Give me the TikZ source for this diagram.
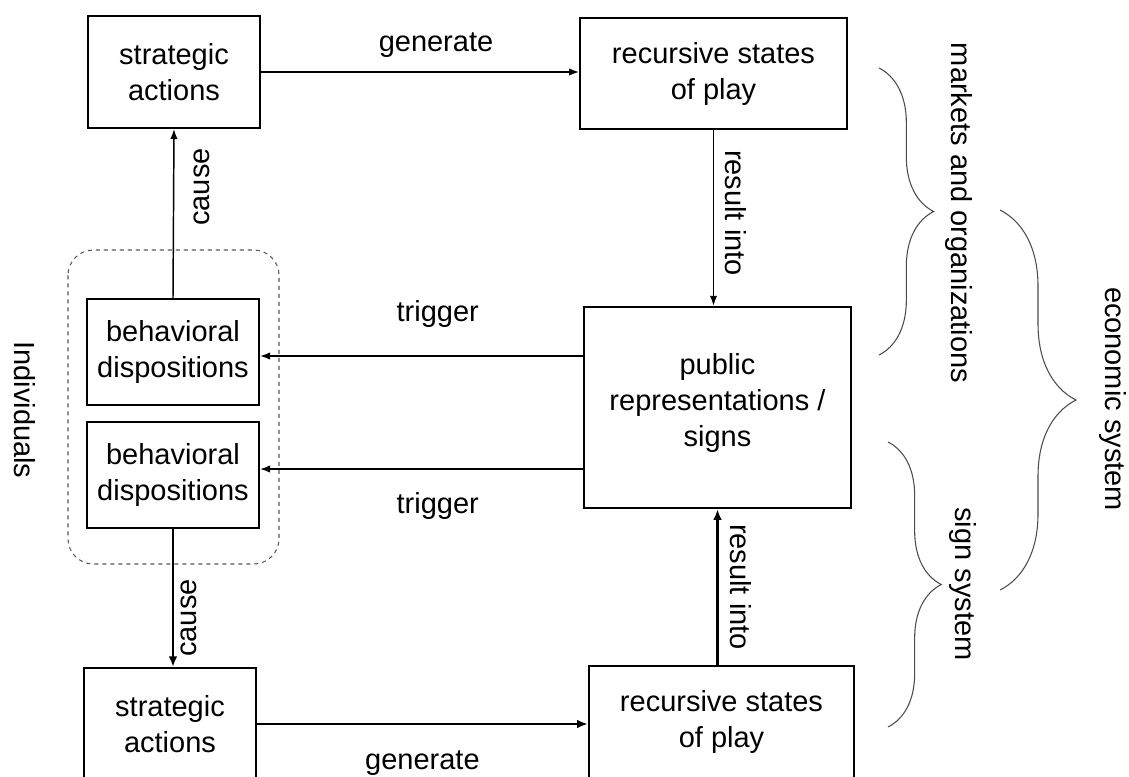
\documentclass[tikz,border=0pt]{standalone}
\usepackage{fontspec}
\setmainfont{Liberation Sans}
\usetikzlibrary{decorations.pathreplacing, arrows.meta}

\begin{document}
\begin{tikzpicture}[x=0.75pt, y=-0.75pt,
	font=\fontsize{21.75}{27}\selectfont,
	box/.style={draw, line width=1.5pt, align=center, inner sep=0pt},
	lbl/.style={inner sep=0pt},
	thinarrow/.style={-{Latex[length=7.5pt, width=5.5pt]}, line width=1.1pt},
	thickarrow/.style={-{Latex[length=8pt, width=6.5pt]}, line width=1.8pt},
	grp/.style={draw=gray!70!black, dashed, line width=0.8pt, rounded corners=19pt},
	brc/.style={draw=gray!60!black, line width=0.8pt, decorate, decoration={brace, amplitude=#1}}]
		\useasboundingbox (0,0) rectangle (1129,776);

		\node (sa1)[box, minimum width=129pt, minimum height=84pt] at (174,72) {strategic\\actions};
		\node (rs1)[box, minimum width=200pt, minimum height=83pt] at (713.5,73.5) {recursive states\\of play};
		\node (pr)[box, minimum width=200pt, minimum height=151pt] at (717.5,407.5) {public\\representations /\\signs\\[-15pt]};
		\node (bd1)[box, minimum width=129pt, minimum height=79.5pt] at (173,352) {behavioral\\dispositions};
		\node (bd2)[box, minimum width=129pt, minimum height=79.5pt] at (173,475) {behavioral\\dispositions};
		\node (sa2)[box, minimum width=129pt, minimum height=84pt] at (170,724) {strategic\\actions};
		\node (rs2)[box, minimum width=199pt, minimum height=84pt] at (721.5,722) {recursive states\\of play};

		% individuals
		\draw [grp] (68,250) rectangle (279,564);
		\node (indiv)[lbl, rotate=-90] at (25,410) {Individuals};

		\coordinate (t1) at ([yshift=-3pt]bd1.east);
		\coordinate (t2) at ([yshift=4.5pt]bd2.east);

		\draw [thinarrow](sa1.east) -- node [pos=0.55, above=10pt, lbl]{generate} (sa1.east -| rs1.west);
		\draw [thinarrow](rs1.south) -- (rs1.south |- pr.north);
		\draw [thinarrow](bd1.north) -- (sa1.south);
		\draw [thinarrow](t1 -| pr.west) -- node [pos=0.45, above=20.5pt, lbl]{trigger} (t1);
		\draw [thinarrow](t2 -| pr.west) -- node [pos=0.45, below=17pt, lbl]{trigger} (t2);
		\draw [thickarrow](bd2.south) -- (bd2.south |- sa2.north);
		\draw [thickarrow](sa2.east) -- node [pos=0.5, below=19pt, lbl]{generate} (sa2.east -| rs2.west);
		\draw [thickarrow](pr.south |- rs2.north) -- (pr.south);

		\node (cause1)[lbl, rotate=90] at (202,187) {cause};
		\node (cause2)[lbl, rotate=90] at (189,618) {cause};
		\node (into1)[lbl, rotate=-90] at (736,213) {result into};
		\node (into2)[lbl, rotate=-90] at (741,587) {result into};

		% braces
		\draw [brc=41pt] (879,68) -- (879,355);
		\draw [brc=57pt] (1000,210) -- (1000,590);
		\draw [brc=40pt] (888,442) -- (888,727);
		\node (markets)[lbl, rotate=-90] at (959,213) {markets and organizations};
		\node (econ)[lbl, rotate=-90] at (1113,399) {economic system};
		\node (sign)[lbl, rotate=-90] at (963,584) {sign system};
	\end{tikzpicture}
\end{document}
